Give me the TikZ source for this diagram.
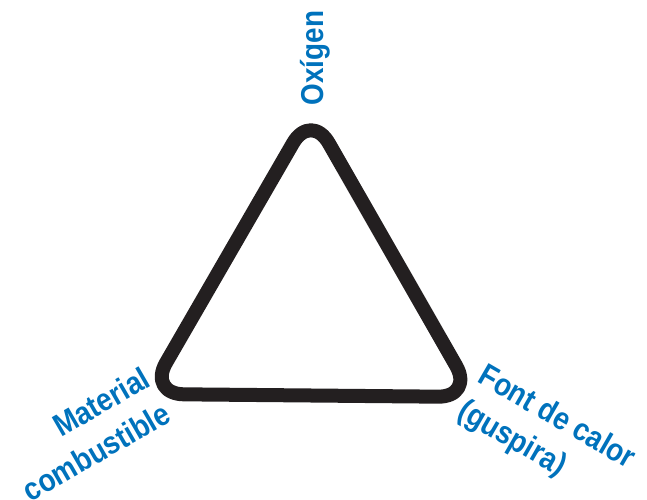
\documentclass[tikz,border=0pt]{standalone}
\usepackage{fontspec}
\setmainfont{Liberation Sans}
\newfontfamily\lblfont[FakeStretch=0.88]{Liberation Sans}
\definecolor{lblblue}{RGB}{0,114,188}
\definecolor{edgeblack}{RGB}{35,31,32}

\begin{document}
\begin{tikzpicture}[x=0.025cm, y=-0.025cm,
    side/.style={draw=edgeblack, line width=3.5mm, line join=round, rounded corners=9mm},
    lbl/.style={text=lblblue, inner sep=0pt, font=\lblfont\bfseries\fontsize{22.5}{29}\selectfont}]
    \useasboundingbox (0,0) rectangle (647,500);

    % Corners
    \coordinate (top) at (311,112);
    \coordinate (left) at (148,394);
    \coordinate (right) at (474,397);

    % Triangle
    \draw[side] (top) -- (left) -- (right) -- cycle;

    % Labels
    \node[lbl, rotate=90] (oxigen) at (315,58) {Oxígen};
    \node[lbl, rotate=30, align=right] (material) at (86,434) {Material\\combustible};
    \node[lbl, rotate=-30, align=left] (calor) at (546,436) {Font de calor\\(guspira)};
\end{tikzpicture}
\end{document}
